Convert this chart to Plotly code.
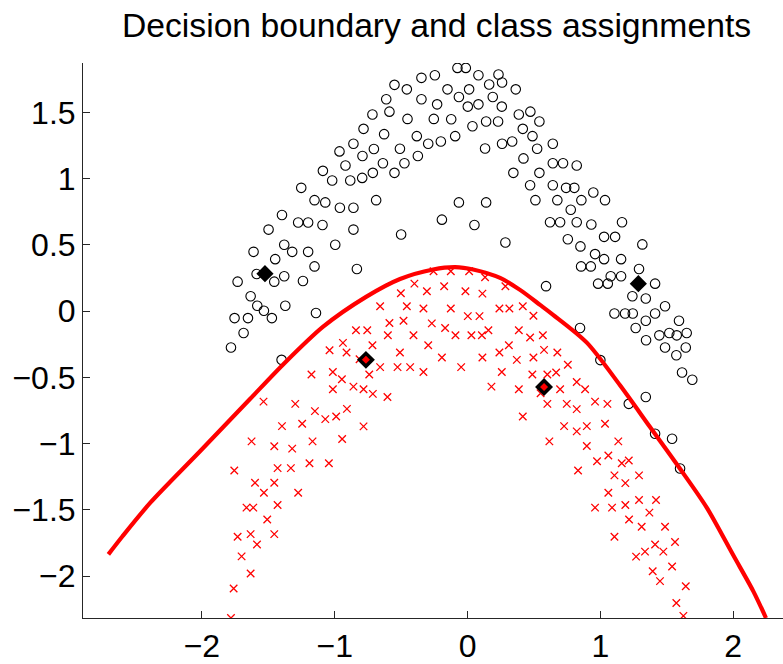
import plotly.graph_objects as go

# ---- data ----
circ_x = [-1.252, -1.397, -1.498, -1.275, -1.2, -1.38,
          -0.076, -0.013, -0.246, -0.347, 0.082, 0.233, 0.26, 0.163, -0.55, -0.457, -0.151, 0.012, 0.363,
          -0.065, 0.19, -0.612, -0.347, -0.229, 0.002, 0.082, 0.258, -0.588, -0.716, 0.386, -0.452, -0.254,
          -0.123, 0.14, 0.23, 0.037, -0.783, -0.628, -0.382, -0.093, -0.201, -0.296, -0.859, 0.132, 0.26,
          0.336, -0.964, -0.705, -0.509, -0.791, -0.374, -0.919, -0.637, -0.475, -1.089, -1.019, -0.883,
          -0.793, -0.713, -0.55, 0.345, -1.152, -1.071, -0.961, -0.859, -0.688, -0.065, 0.14, -0.193, 0.052,
          -1.092, -0.859, -0.5,
          0.473, 0.541, 0.416, 0.489, 0.524, 0.642, 0.421, 0.642, 0.719, 0.822, 0.541, 0.471, 0.642, 0.742,
          0.804, 0.947, 0.511, 0.676, 0.857, 1.035, 0.777, 0.621, 0.697, 0.822, 0.932, 1.163, 0.755, 1.028,
          1.111,
          -1.611, -1.32, -1.448, -1.588, -1.38, -1.731, -1.455, -1.633, -1.583, -1.533, -1.372, -1.754,
          -1.653, -1.473, -1.686, -1.781, -1.4,
          -0.996, -1.2, -1.152, -0.833, -1.239, -1.141, 0.285,
          0.85, 1.316, 0.96, 1.028, 1.156, 0.855, 0.928, 1.291, 1.078, 1.156, 0.983, 1.056, 1.412, 0.591,
          1.241, 1.342, 1.487, 1.106, 1.186, 1.244, 1.412, 1.342, 1.592, 1.266, 0.847, 1.444, 1.519, 1.575,
          1.65, 1.344, 1.487, 1.643, 1.572, 1.0, 1.615, 1.692, 1.342, 1.214,
          1.412, 1.54, 1.6]
circ_y = [0.93, 0.725, 0.615, 0.668, 0.668, 0.5,
          1.835, 1.835, 1.78, 1.76, 1.78, 1.785, 1.725, 1.71, 1.707, 1.673, 1.673, 1.673, 1.673,
          1.615, 1.615, 1.598, 1.598, 1.56, 1.543, 1.56, 1.543, 1.505, 1.483, 1.483, 1.45, 1.45,
          1.448, 1.43, 1.43, 1.395, 1.375, 1.335, 1.32, 1.32, 1.28, 1.263, 1.263, 1.227, 1.263,
          1.28, 1.205, 1.223, 1.225, 1.17, 1.17, 1.098, 1.115, 1.115, 1.058, 0.985, 0.985,
          1.005, 1.043, 1.043, 1.043, 0.837, 0.82, 0.78, 0.78, 0.837, 0.82, 0.82, 0.69, 0.65,
          0.65, 0.615, 0.578,
          1.505, 1.43, 1.375, 1.32, 1.225, 1.263, 1.152, 1.115, 1.115, 1.098, 1.043, 0.95, 0.95, 0.93,
          0.93, 0.895, 0.837, 0.837, 0.837, 0.837, 0.765, 0.67, 0.67, 0.67, 0.653, 0.67, 0.542, 0.56,
          0.56,
          0.447, 0.447, 0.392, 0.28, 0.263, 0.222, 0.222, 0.112, 0.04, 0.002, 0.04, -0.053,
          -0.053, -0.053, -0.165, -0.275, -0.368,
          0.5, 0.447, 0.337, 0.317, 0.227, -0.015, 0.518,
          0.488, 0.503, 0.43, 0.392, 0.392, 0.337, 0.337, 0.317, 0.263, 0.263, 0.207, 0.207, 0.207, 0.188,
          0.112, 0.095, 0.037, -0.018, -0.018, -0.018, -0.018, -0.073, -0.073, -0.128, -0.128, -0.183,
          -0.165, -0.183, -0.165, -0.22, -0.275, -0.275, -0.333, -0.37, -0.463, -0.518, -0.648, -0.7,
          -0.926, -0.963, -1.188]

cross_x = [-1.536, -1.297,
           -0.256, -0.126, 0.012, 0.132, -0.4, -0.176, 0.285, -0.502, -0.306, -0.016, 0.112, -0.658,
           -0.457, -0.332, -0.126, 0.24, 0.315, 0.002, 0.09, -0.482, -0.588, -0.269, -0.169, -0.84,
           -0.755, 0.157, 0.386, -0.6, -0.407, -0.091, 0.029, 0.108, -0.938, -0.716, -0.296, 0.311,
           -1.039, -0.911, -0.509, 0.24, -0.813, -0.193, 0.112, 0.371, -0.658, -0.527, -0.432, -0.048,
           -1.014, -1.175, -0.74, -0.332, 0.258, -0.946, -0.859, -0.783, -0.713, -0.603, -1.014, 0.18,
           0.386, -1.149, -0.989, -0.908,
           0.416, 0.496, 0.471, 0.567, 0.576, 0.676, 0.496, 0.755, 0.488, 0.601, 0.667, 0.55, 0.697,
           0.822, 0.885, 0.601, 0.747, 0.822, 0.96, 1.053, 0.416,
           -1.397, -1.245, -1.626, -1.455, -1.32, -1.756, -1.43, -1.33, -1.6, -1.455, -1.533, -1.275,
           -1.664, -1.613, -1.43, -1.508, -1.731, -1.633, -1.455, -1.585, -1.701, -1.633, -1.761, -1.781,
           -1.071, -0.783, -1.167, -0.944, -1.19, -1.044,
           0.727, 0.822, 0.898, 1.035, 0.616, 0.898, 1.135, 0.975, 1.06, 1.161, 1.214, 0.832, 1.106,
           1.188, 1.291, 1.06, 0.96, 1.088, 1.188, 1.291, 1.419, 1.369, 1.216, 1.311, 1.487, 1.106,
           1.412, 1.562, 1.336, 1.269, 1.474, 1.54, 1.394, 1.449, 1.643, 1.572, 1.625]
cross_y = [-0.683, -0.7,
           0.3, 0.3, 0.3, 0.255, 0.207, 0.188, 0.188, 0.135, 0.15, 0.15, 0.132, 0.037,
           0.037, 0.02, 0.02, 0.02, 0.02, -0.038, -0.038, -0.073, -0.09, -0.093, -0.128, -0.145,
           -0.145, -0.145, -0.145, -0.183, -0.183, -0.183, -0.183, -0.183, -0.24, -0.258, -0.258, -0.258,
           -0.296, -0.313, -0.313, -0.313, -0.363, -0.35, -0.35, -0.368, -0.423, -0.423, -0.423, -0.423,
           -0.46, -0.478, -0.478, -0.46, -0.46, -0.515, -0.57, -0.59, -0.625, -0.648, -0.59, -0.57,
           -0.59, -0.755, -0.795, -0.738,
           0.037, -0.035, -0.2, -0.183, -0.293, -0.313, -0.35, -0.405, -0.478, -0.478, -0.463, -0.62, -0.59,
           -0.535, -0.59, -0.7, -0.7, -0.74, -0.683, -0.7, -0.795,
           -0.868, -0.85, -0.983, -1.02, -1.038, -1.203, -1.185, -1.185, -1.296, -1.296, -1.371, -1.371,
           -1.483, -1.483, -1.463, -1.573, -1.703, -1.683, -1.683, -1.761, -1.851, -1.98, -2.093, -2.316,
           -0.815, -0.87, -0.983, -0.965, -1.148, -1.148,
           -0.868, -0.908, -0.868, -0.85, -0.983, -1.018, -0.983, -1.133, -1.09, -1.148, -1.128, -1.203, -1.24,
           -1.298, -1.24, -1.371, -1.483, -1.483, -1.463, -1.425, -1.425, -1.521, -1.573, -1.628, -1.628, -1.703,
           -1.761, -1.743, -1.815, -1.853, -1.815, -1.928, -1.963, -2.038, -2.076, -2.203, -2.3]

# class centroids
cent_black_x = [-1.525, 1.286]
cent_black_y = [0.282, 0.207]
cent_red_x = [-0.765, 0.576]
cent_red_y = [-0.368, -0.573]

# decision boundary
bnd_x = [-2.704, -2.599, -2.388, -2.012, -1.636, -1.388, -1.087, -0.764, -0.508, -0.259, -0.093,
         0.042, 0.245, 0.395, 0.546, 0.644, 0.898, 1.148, 1.374, 1.600, 1.801, 2.001, 2.151, 2.247]
bnd_y = [-1.836, -1.701, -1.446, -1.056, -0.662, -0.403, -0.118, 0.107, 0.242, 0.314, 0.332,
         0.314, 0.250, 0.160, 0.047, -0.028, -0.238, -0.560, -0.875, -1.190, -1.483, -1.843, -2.113, -2.316]

x_ticks = [-2, -1, 0, 1, 2]
y_ticks = [-2, -1.5, -1, -0.5, 0, 0.5, 1, 1.5]

FONT = "Liberation Sans, Arial, Helvetica, sans-serif"
AX = "#262626"

fig = go.Figure()
fig.add_trace(go.Scatter(x=circ_x, y=circ_y, mode="markers",
                         marker=dict(symbol="circle-open", size=9.5, color="black",
                                     line=dict(width=1.1, color="black")),
                         hoverinfo="skip"))
fig.add_trace(go.Scatter(x=cross_x, y=cross_y, mode="markers",
                         marker=dict(symbol="x-thin-open", size=7.5, color="#ff0000",
                                     line=dict(width=1.3, color="#ff1a1a")),
                         hoverinfo="skip"))
fig.add_trace(go.Scatter(x=bnd_x, y=bnd_y, mode="lines",
                         line=dict(color="#ff0000", width=4.2, shape="spline", smoothing=0.8),
                         hoverinfo="skip"))
fig.add_trace(go.Scatter(x=cent_black_x, y=cent_black_y, mode="markers",
                         marker=dict(symbol="diamond", size=10, color="black",
                                     line=dict(width=3, color="black")),
                         hoverinfo="skip"))
fig.add_trace(go.Scatter(x=cent_red_x, y=cent_red_y, mode="markers",
                         marker=dict(symbol="diamond", size=10, color="#ff0000",
                                     line=dict(width=3.5, color="black")),
                         hoverinfo="skip"))

fig.update_layout(
    width=783, height=664,
    margin=dict(l=83, r=0, t=63, b=43),
    paper_bgcolor="white", plot_bgcolor="white",
    showlegend=False,
    font=dict(family=FONT, size=32, color="black"),
    title=dict(text="Decision boundary and class assignments",
               font=dict(family=FONT, size=33.7, color="black"),
               xref="paper", x=0.505, xanchor="center",
               yref="container", y=1 - 25 / 664, yanchor="middle"),
)
fig.update_xaxes(range=[-2.895, 2.375], tickvals=x_ticks, showgrid=False, zeroline=False,
                 showline=True, linecolor=AX, linewidth=1, mirror=False,
                 ticks="inside", ticklen=7, tickcolor=AX, tickwidth=1,
                 tickfont=dict(family=FONT, size=32, color="black"))
fig.update_yaxes(range=[-2.316, 1.872], tickvals=y_ticks, showgrid=False, zeroline=False,
                 showline=True, linecolor=AX, linewidth=1, mirror=False,
                 ticks="inside", ticklen=7, tickcolor=AX, tickwidth=1,
                 tickfont=dict(family=FONT, size=32, color="black"))

fig.write_html("out.html")
